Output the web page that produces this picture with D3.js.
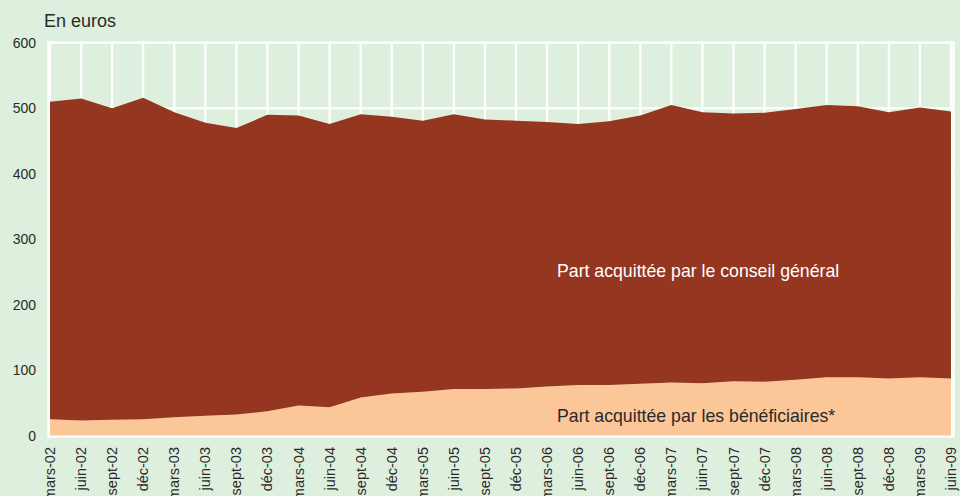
<!DOCTYPE html>
<html>
<head>
<meta charset="utf-8">
<script src="https://cdn.jsdelivr.net/npm/d3@7"></script>
<style>
    body { margin: 0; background: #dfefdd; }
    svg { display: block; font-family: "Liberation Sans", Arial, sans-serif; }
</style>
</head>
<body>
<svg id="chart" width="960" height="496"></svg>
<script>
// quarters, mars-02 -> juin-09
const quarters = ["mars-02", "juin-02", "sept-02", "déc-02", "mars-03", "juin-03", "sept-03", "déc-03",
    "mars-04", "juin-04", "sept-04", "déc-04", "mars-05", "juin-05", "sept-05", "déc-05",
    "mars-06", "juin-06", "sept-06", "déc-06", "mars-07", "juin-07", "sept-07", "déc-07",
    "mars-08", "juin-08", "sept-08", "déc-08", "mars-09", "juin-09"];

// part acquittée par les bénéficiaires (euros)
const beneficiaires = [25, 23, 24, 25, 28, 30, 32, 37, 46, 43, 58, 64, 67, 71, 71, 72,
    75, 77, 77, 79, 81, 80, 83, 82, 85, 89, 89, 87, 89, 87];

// montant total (bénéficiaires + conseil général)
const totals = [510, 515, 500, 516, 494, 478, 470, 490, 489, 476, 491, 487, 481, 491, 483, 481,
    479, 476, 480, 489, 505, 494, 492, 493, 499, 505, 503, 494, 501, 495];

const yTicks = [0, 100, 200, 300, 400, 500, 600];

const conseil = totals.map((t, i) => t - beneficiaires[i]);
const rows = quarters.map((q, i) => ({quarter: q, benef: beneficiaires[i], conseil: conseil[i]}));

const svg = d3.select("#chart");

const x = d3.scalePoint()
    .domain(quarters)
    .range([50, 951]);

const y = d3.scaleLinear()
    .domain([0, 600])
    .range([435.5, 42.8]);

// grid
svg.append("g").selectAll("line.v")
    .data(quarters)
    .enter().append("line")
    .attr("x1", d => x(d)).attr("x2", d => x(d))
    .attr("y1", y(600)).attr("y2", y(0))
    .attr("stroke", "#fff").attr("stroke-width", 2.2);

svg.append("g").selectAll("line.h")
    .data(yTicks)
    .enter().append("line")
    .attr("x1", 48).attr("x2", 954)
    .attr("y1", d => y(d)).attr("y2", d => y(d))
    .attr("stroke", "#fff").attr("stroke-width", 2.2);

svg.append("rect")
    .attr("x", 48.5).attr("y", y(600))
    .attr("width", 905).attr("height", y(0) - y(600) + 1)
    .attr("fill", "none").attr("stroke", "#fff").attr("stroke-width", 2.4);

// stacked areas
const stack = d3.stack().keys(["benef", "conseil"]);
const series = stack(rows);
const colors = {benef: "#fbc698", conseil: "#953720"};

const area = d3.area()
    .x(d => x(d.data.quarter))
    .y0(d => y(d[0]))
    .y1(d => y(d[1]));

svg.append("g").selectAll("path")
    .data(series)
    .enter().append("path")
    .attr("d", area)
    .attr("fill", d => colors[d.key]);

// y axis labels
svg.append("g").selectAll("text")
    .data(yTicks)
    .enter().append("text")
    .attr("x", 36)
    .attr("y", d => y(d) + 5)
    .attr("text-anchor", "end")
    .attr("font-size", 14)
    .attr("fill", "#2a2a2a")
    .text(d => d);

// x axis labels
svg.append("g").selectAll("text")
    .data(quarters)
    .enter().append("text")
    .attr("transform", d => `translate(${x(d) + 5},447) rotate(-90)`)
    .attr("text-anchor", "end")
    .attr("font-size", 14.5)
    .attr("fill", "#2a2a2a")
    .text(d => d);

svg.append("text")
    .attr("x", 44).attr("y", 27)
    .attr("font-size", 18)
    .attr("fill", "#2a2a2a")
    .text("En euros");

svg.append("text")
    .attr("x", 557).attr("y", 277)
    .attr("font-size", 17.7)
    .attr("fill", "#fff")
    .text("Part acquittée par le conseil général");

svg.append("text")
    .attr("x", 557).attr("y", 422)
    .attr("font-size", 17.7)
    .attr("fill", "#2a2a2a")
    .text("Part acquittée par les bénéficiaires*");
</script>
</body>
</html>
